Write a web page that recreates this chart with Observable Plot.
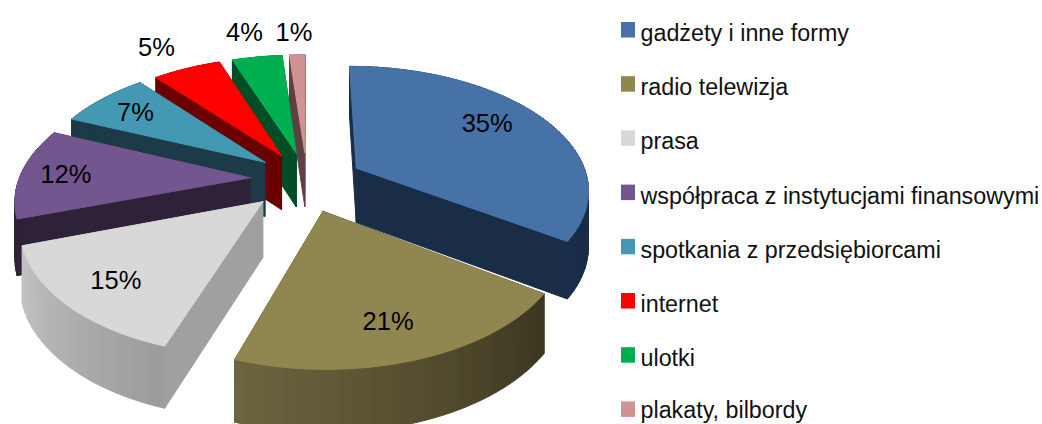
<!DOCTYPE html>
<html><head><meta charset="utf-8">
<style>html,body{margin:0;padding:0;background:#fff;overflow:hidden}svg{display:block}</style>
<script src="https://cdn.jsdelivr.net/npm/d3@7"></script>
<script src="https://cdn.jsdelivr.net/npm/@observablehq/plot@0.6"></script>
</head><body><div id="c"></div>
<script>
const categories = ["gadżety i inne formy","radio telewizja","prasa","współpraca z instytucjami finansowymi","spotkania z przedsiębiorcami","internet","ulotki","plakaty, bilbordy"];
const shares = [35,21,15,12,7,5,4,1];
const topColors = ["#4672a8","#8f8650","#d8d8d8","#735690","#4399b3","#ff0000","#00b050","#d09393"];
const rimStart = ["#1a2d47","#3c3620","#9c9c9c","#2e2238","#1c3a47","#6a0000","#004d26","#5f4040"];
const rimEnd   = ["#1a2d47","#6e6640","#c4c4c4","#2e2238","#1c3a47","#6a0000","#004d26","#5f4040"];
const wallColors = ["#1a2d47","#3c3620","#a0a0a0","#2e2238","#1c3a47","#6a0000","#004d26","#5f4040"];

// pie layout (tilted disc seen in perspective)
const W = 1042, H = 424, cx = 306, cy = 181, R = 232, T = 122, persp = 0.16, explode = 0.245, depth = 55;
const drawOrder = [7,6,5,4,3,0,2,1];
const labelRadius = [0.7,0.7,0.7,0.7,0.7,1.2,1.2,1.2];
const labelNudge = [[-1,-8],[3,12],[-15,10],[-24,0],[-13,-4],[-14,-6],[-6,-8],[-2,-6]];
const rad = d => d * Math.PI / 180;
const warp = d3.scaleLinear([0,126,201.6,255.6,298.8,324,342,356.4,360], [0,-1.5,-3,-4.5,-5.5,-3.8,-1.5,-1,0]);
const total = d3.sum(shares);
let acc = 0;
const slices = shares.map((v, i) => { const a0 = acc / total * 360; acc += v; return {i, a0, a1: acc / total * 360, mid: (a0 + acc / total * 360) / 2}; });
function project(sl, r, a, z = 0) {
  const w = a + warp(a);
  const X = r * Math.sin(rad(w)) + explode * Math.sin(rad(sl.mid));
  const Y = r * Math.cos(rad(w)) + explode * Math.cos(rad(sl.mid));
  const s = 1 / (1 + persp * Y);
  return [cx + R * X * s, cy - T * Y * s + z * depth * (1 + 0.6 * (s - 1))];
}
const rows = [];
let pid = 0;
function poly(pts, c) { const id = pid++; [...pts, pts[0]].forEach(([x, y]) => rows.push({id, x, y, c})); }
for (const o of drawOrder) {
  const sl = slices[o];
  poly([project(sl,0,sl.a0), project(sl,1,sl.a0), project(sl,1,sl.a0,1), project(sl,0,sl.a0,1)], wallColors[o]);
  poly([project(sl,0,sl.a1), project(sl,1,sl.a1), project(sl,1,sl.a1,1), project(sl,0,sl.a1,1)], wallColors[o]);
  const steps = Math.max(2, Math.ceil((sl.a1 - sl.a0) / 2));
  const col = d3.interpolateRgb(rimStart[o], rimEnd[o]);
  for (let k = 0; k < steps; k++) {
    const a = sl.a0 + (sl.a1 - sl.a0) * k / steps, b = sl.a0 + (sl.a1 - sl.a0) * (k + 1) / steps;
    poly([project(sl,1,a), project(sl,1,b), project(sl,1,b,1), project(sl,1,a,1)], col(k / steps));
  }
  const top = [project(sl,0,sl.a0)];
  for (let k = 0; k <= steps * 2; k++) top.push(project(sl,1,sl.a0 + (sl.a1 - sl.a0) * k / (steps * 2)));
  poly(top, topColors[o]);
}
const labels = slices.map(sl => {
  const [x, y] = project(sl, labelRadius[sl.i], sl.mid);
  return {x: x + labelNudge[sl.i][0], y: y + labelNudge[sl.i][1], t: shares[sl.i] + "%"};
});
const legendRows = categories.map((name, i) => ({name, color: topColors[i], y: 33 + 54.2 * i, ty: Math.min(33 + 54.2 * i, 410.3)}));
const plot = Plot.plot({
  width: W, height: H, margin: 0,
  x: {domain: [0, W], range: [0, W], axis: null},
  y: {domain: [0, H], range: [0, H], axis: null},
  marks: [
    Plot.line(rows, {x: "x", y: "y", z: "id", fill: "c", stroke: "c", strokeWidth: 1, curve: "linear"}),
    Plot.text(labels, {x: "x", y: "y", text: "t", fontSize: 25.5, fill: "#000", fontFamily: "Liberation Sans"}),
    Plot.rect(legendRows, {x1: () => 621, x2: () => 635, y1: d => d.y - 11, y2: d => d.y + 4.5, fill: "color"}),
    Plot.text(legendRows, {x: () => 640, y: "ty", text: "name", textAnchor: "start", fontSize: 23.3, fill: "#111", fontFamily: "Liberation Sans"})
  ]
});
document.getElementById("c").appendChild(plot);
</script></body></html>
